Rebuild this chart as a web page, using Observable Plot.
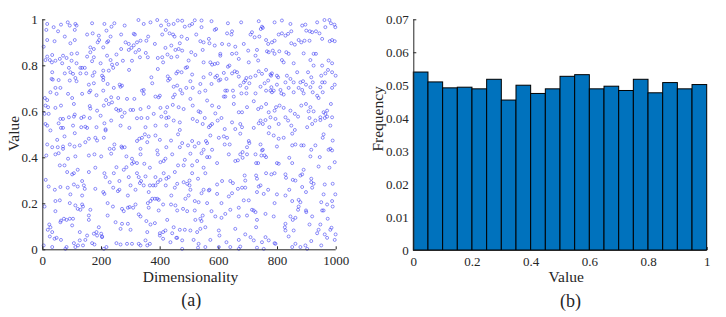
<!DOCTYPE html>
<html><head><meta charset="utf-8">
<script src="https://cdn.jsdelivr.net/npm/d3@7"></script>
<script src="https://cdn.jsdelivr.net/npm/@observablehq/plot@0.6"></script>
<style>
html,body{margin:0;padding:0;background:#fff;}
#wrap{position:relative;width:726px;height:317px;overflow:hidden;background:#fff;}
#wrap svg{position:absolute;top:0;}
#wrap svg text{font-family:"Liberation Serif","Times New Roman",serif;}
</style></head><body><div id="wrap"></div>
<script>
// (a) scatter: [dimensionality, value]
const scatterPoints = [
[15,.982],[37,.968],[62,.979],[85,.989],[92,.975],[111,.982],[115,.975],[168,.985],[210,.982],[234,.970],[244,.985],[279,.975],[326,.999],[344,.982],[367,.989],[390,.999],[403,.975],[421,.996],[429,.979],[446,.982],[460,.997],[475,.996],[484,.970],
[12,.956],[52,.950],[75,.927],[109,.956],[151,.936],[170,.941],[191,.931],[217,.953],[231,.927],[267,.936],[310,.939],[314,.936],[359,.927],[407,.936],[419,.956],[432,.941],[444,.936],[449,.927],[473,.927],
[15,.912],[40,.907],[94,.898],[109,.912],[162,.880],[187,.902],[192,.912],[219,.902],[223,.907],[282,.902],[293,.895],[310,.889],[321,.902],[333,.909],[353,.909],[382,.895],[438,.888],[467,.898],
[3,.883],[174,.873],[206,.880],[267,.873],[293,.869],[302,.878],[316,.859],[328,.869],[351,.856],[418,.878],[452,.869],[463,.873],[475,.866],[458,.840],[32,.847],[69,.844],[81,.834],[98,.852],[117,.854],[162,.859],[151,.840],[174,.837],[219,.844],[251,.849],[407,.837],[425,.849],[438,.837],
[9,.825],[24,.825],[31,.815],[43,.822],[58,.830],[66,.811],[98,.822],[115,.811],[134,.791],[168,.820],[197,.811],[231,.825],[236,.805],[253,.808],[273,.822],[304,.822],[331,.837],[358,.837],[392,.834],[410,.815],[15,.840],
[89,.791],[94,.772],[103,.765],[128,.791],[143,.791],[170,.757],[176,.772],[202,.757],[206,.779],[225,.779],[240,.791],[294,.782],[392,.786],[426,.754],[455,.767],[460,.775],[473,.772],[32,.772],[75,.767],[128,.767],[148,.767],
[30,.743],[34,.740],[54,.738],[92,.736],[111,.747],[115,.733],[157,.718],[174,.724],[206,.750],[206,.738],[221,.721],[242,.704],[262,.718],[265,.709],[270,.714],[338,.692],[344,.695],[370,.750],[373,.724],[427,.736],[433,.743],[446,.709],[458,.714],[469,.695],
[7,.660],[15,.651],[26,.685],[43,.704],[47,.678],[60,.704],[86,.678],[100,.660],[134,.678],[158,.685],[162,.692],[183,.672],[206,.692],[216,.651],[233,.663],[236,.641],[257,.660],[287,.656],[312,.656],[344,.678],[384,.666],[395,.663],[399,.670],[444,.663],[450,.675],[475,.680],
[9,.627],[18,.620],[43,.617],[62,.627],[106,.634],[160,.625],[162,.614],[185,.605],[208,.627],[225,.634],[250,.612],[258,.605],[265,.608],[279,.596],[299,.608],[308,.608],[333,.612],[361,.620],[401,.617],[418,.598],[424,.620],[443,.630],[463,.620],[480,.612],[6,.591],[20,.591],[60,.569],[69,.569],[89,.576],[106,.579],[109,.588],[131,.573],[140,.579],[160,.573],[197,.583],[233,.562],[270,.579],[321,.572],[336,.573],[357,.573],[378,.591],[404,.579],[421,.573],[429,.576],[446,.562],[467,.554],
[9,.547],[15,.540],[54,.550],[62,.530],[69,.530],[103,.540],[131,.533],[145,.535],[151,.530],[183,.533],[210,.550],[214,.524],[265,.540],[295,.530],[350,.533],[384,.540],[421,.540],[467,.521],
[518,.998],[541,.997],[541,.968],[575,.994],[500,.975],[509,.982],[591,.960],[586,.956],[631,.985],[645,.950],[676,.989],[736,.994],[743,.960],[750,.965],[747,.970],[790,.989],[815,.997],[844,.982],[847,.950],[884,.975],[895,.979],[910,.950],[931,.950],[935,.989],[960,.999],[963,.968],[977,.999],[982,.985],[994,.979],[997,.968],
[492,.917],[523,.936],[537,.907],[545,.869],[548,.902],[568,.898],[566,.917],[586,.888],[605,.852],[611,.895],[628,.941],[643,.936],[634,.892],[656,.883],[685,.895],[700,.866],[708,.936],[713,.946],[722,.924],[730,.869],[738,.927],[761,.912],[768,.895],[781,.902],[790,.909],[784,.866],[804,.936],[815,.941],[827,.931],[836,.939],[847,.898],[859,.892],[872,.912],[881,.902],[892,.909],[898,.953],[909,.909],[918,.946],[923,.852],[931,.852],[943,.941],[952,.917],[978,.907],[986,.912],[995,.907],
[492,.794],[497,.823],[506,.859],[520,.847],[548,.815],[571,.815],[577,.805],[586,.808],[596,.811],[605,.844],[631,.796],[636,.801],[645,.852],[660,.854],[668,.830],[702,.815],[725,.844],[734,.823],[764,.863],[770,.859],[790,.852],[806,.863],[815,.825],[821,.815],[830,.859],[838,.852],[855,.811],[889,.854],[912,.825],[923,.801],[952,.801],[974,.823],[986,.811],
[487,.791],[509,.762],[503,.733],[537,.721],[548,.750],[571,.765],[588,.750],[594,.757],[600,.736],[605,.740],[617,.769],[626,.743],[645,.767],[654,.776],[662,.772],[668,.753],[685,.728],[690,.736],[694,.747],[708,.750],[725,.757],[736,.776],[747,.765],[761,.782],[776,.762],[778,.757],[781,.767],[798,.757],[802,.750],[827,.728],[832,.757],[844,.743],[855,.728],[867,.772],[878,.728],[887,.733],[904,.772],[915,.750],[920,.728],[949,.757],[952,.728],[961,.728],[963,.767],[972,.782],[986,.772],[998,.757],
[489,.704],[511,.704],[534,.685],[554,.692],[575,.721],[617,.666],[622,.692],[628,.692],[648,.692],[651,.666],[673,.714],[677,.680],[694,.704],[694,.680],[704,.724],[725,.680],[742,.709],[756,.724],[761,.692],[768,.736],[776,.692],[779,.707],[787,.692],[781,.685],[798,.718],[810,.695],[813,.680],[821,.675],[838,.704],[855,.685],[872,.704],[884,.695],[889,.680],[897,.718],[912,.707],[920,.685],[935,.670],[940,.660],[946,.707],[954,.685],[986,.704],[995,.718],
[503,.656],[511,.627],[531,.602],[537,.598],[552,.573],[560,.649],[577,.627],[588,.593],[600,.620],[609,.573],[622,.666],[651,.634],[668,.598],[679,.598],[696,.620],[719,.646],[734,.612],[745,.620],[761,.634],[770,.598],[776,.576],[795,.620],[790,.605],[807,.627],[821,.617],[827,.576],[844,.605],[859,.591],[870,.579],[881,.627],[897,.634],[906,.602],[912,.620],[923,.602],[946,.576],[957,.598],[963,.591],[969,.605],[986,.576],[982,.634],
[511,.569],[526,.559],[545,.547],[566,.533],[571,.540],[577,.547],[596,.562],[620,.525],[645,.554],[656,.525],[673,.547],[679,.533],[719,.530],[736,.550],[742,.562],[750,.547],[759,.564],[772,.533],[793,.569],[804,.547],[836,.562],[847,.540],[859,.521],[901,.533],[909,.573],[918,.547],[929,.562],[946,.564],[961,.573],[969,.579],[980,.540],
[26,.519],[74,.493],[109,.507],[15,.458],[32,.446],[51,.446],[69,.449],[49,.478],[92,.458],[108,.449],[126,.454],[145,.468],[157,.483],[179,.487],[185,.475],[208,.487],[214,.519],[244,.458],[268,.449],[279,.446],[321,.473],[329,.483],[338,.487],[348,.502],[356,.468],[361,.493],[384,.497],[399,.478],[421,.446],[437,.475],[461,.502],[475,.464],
[12,.410],[43,.415],[54,.420],[69,.439],[86,.396],[111,.406],[157,.410],[176,.415],[199,.406],[228,.439],[233,.418],[242,.439],[270,.444],[285,.406],[304,.396],[310,.381],[321,.377],[333,.415],[346,.374],[390,.432],[392,.415],[401,.381],[412,.386],[418,.396],[441,.415],[461,.367],[467,.446],[484,.391],[333,.439],
[10,.304],[58,.367],[74,.367],[83,.338],[100,.328],[106,.333],[119,.348],[134,.299],[140,.280],[157,.338],[179,.357],[210,.333],[214,.316],[228,.294],[242,.333],[251,.359],[276,.348],[285,.359],[293,.316],[304,.374],[321,.333],[327,.316],[335,.299],[365,.357],[384,.316],[412,.333],[421,.309],[429,.316],[450,.338],[480,.367],[350,.319],[261,.299],
[20,.275],[41,.261],[60,.273],[85,.270],[94,.241],[106,.284],[119,.275],[134,.236],[143,.265],[179,.265],[206,.251],[210,.243],[240,.270],[256,.255],[261,.261],[299,.280],[316,.261],[331,.290],[344,.280],[361,.251],[365,.280],[376,.280],[384,.280],[392,.294],[401,.304],[419,.280],[438,.236],[450,.270],[458,.287],[480,.294],[486,.222],[290,.236],
[6,.188],[43,.212],[58,.215],[92,.203],[111,.193],[134,.197],[137,.188],[119,.178],[128,.174],[157,.149],[162,.174],[221,.203],[239,.188],[270,.178],[276,.168],[290,.183],[296,.186],[308,.183],[327,.154],[316,.197],[358,.203],[361,.183],[367,.212],[373,.222],[382,.222],[390,.222],[395,.217],[410,.197],[395,.171],[437,.197],[452,.193],[458,.171],[478,.178],[43,.168],[62,.127],[72,.135],[81,.130],[92,.135],[103,.135],
[22,.110],[17,.087],[26,.098],[32,.077],[47,.052],[60,.120],[100,.106],[126,.077],[157,.130],[174,.070],[191,.098],[183,.077],[199,.070],[202,.058],[248,.120],[265,.091],[270,.113],[290,.113],[299,.087],[333,.145],[353,.125],[367,.110],[382,.116],[399,.072],[410,.077],[418,.084],[424,.130],[441,.072],[446,.098],[455,.052],[467,.087],[484,.087],[356,.077],[221,.149],
[3,.019],[24,.058],[32,.012],[40,.048],[62,.043],[81,.012],[106,.029],[120,.019],[126,.041],[137,.019],[145,.043],[151,.062],[168,.029],[176,.023],[185,.062],[202,.055],[217,.012],[251,.029],[265,.023],[287,.026],[304,.026],[327,.026],[333,.019],[350,.041],[356,.019],[365,.026],[399,.062],[410,.048],[435,.033],[458,.052],[475,.041],[475,.004],[111,.012],[77,.004],[208,.004],
[495,.454],[509,.473],[518,.449],[531,.464],[548,.435],[556,.473],[560,.464],[571,.497],[577,.435],[600,.487],[617,.493],[620,.458],[628,.487],[637,.458],[673,.505],[681,.425],[702,.473],[704,.464],[696,.446],[725,.415],[742,.458],[750,.435],[756,.410],[770,.507],[787,.497],[798,.449],[804,.483],[821,.487],[850,.505],[850,.454],[861,.458],[881,.454],[889,.454],[915,.435],[929,.454],[957,.502],[954,.487],[974,.435],[980,.439],[988,.475],
[503,.418],[509,.367],[526,.386],[541,.420],[560,.403],[568,.403],[594,.377],[634,.415],[656,.386],[665,.389],[673,.415],[681,.400],[696,.415],[727,.377],[734,.377],[745,.410],[761,.403],[798,.377],[804,.374],[840,.400],[850,.377],[912,.406],[944,.403],[977,.357],[986,.432],[995,.381],[747,.432],
[492,.287],[500,.301],[509,.333],[529,.309],[548,.357],[554,.333],[594,.284],[611,.299],[639,.299],[648,.290],[688,.323],[690,.301],[727,.323],[730,.309],[742,.280],[761,.333],[779,.328],[790,.333],[827,.328],[829,.313],[852,.304],[861,.301],[878,.323],[884,.328],[889,.348],[915,.309],[915,.294],[940,.362],[961,.284],[988,.287],
[500,.280],[503,.261],[497,.236],[518,.212],[531,.207],[541,.246],[548,.261],[566,.258],[568,.261],[594,.243],[609,.203],[634,.232],[645,.246],[665,.265],[679,.270],[690,.270],[685,.215],[702,.215],[730,.251],[736,.275],[753,.243],[768,.261],[798,.241],[827,.236],[840,.261],[850,.212],[872,.217],[878,.207],[884,.273],[897,.251],[918,.270],[923,.287],[949,.207],[957,.241],[969,.197],[986,.212],[997,.241],
[492,.168],[518,.171],[537,.135],[541,.125],[545,.149],[560,.203],[575,.168],[588,.145],[609,.139],[622,.156],[639,.174],[668,.183],[668,.145],[696,.149],[713,.174],[719,.171],[725,.164],[730,.130],[759,.156],[787,.145],[790,.203],[827,.113],[844,.145],[852,.130],[861,.139],[870,.174],[872,.188],[898,.164],[897,.171],[918,.145],[952,.171],[957,.171],[971,.135],[988,.188],[520,.130],
[503,.084],[526,.077],[514,.043],[531,.026],[537,.091],[554,.098],[571,.043],[600,.084],[602,.062],[626,.033],[656,.091],[668,.043],[673,.014],[690,.067],[708,.055],[719,.041],[727,.098],[747,.033],[759,.055],[770,.041],[790,.029],[825,.098],[827,.084],[838,.058],[855,.084],[861,.026],[878,.012],[895,.019],[909,.110],[915,.038],[935,.072],[940,.087],[946,.110],[949,.019],[961,.067],[969,.052],[980,.087],[984,.096],[995,.043],[998,.067],[529,.009],[554,.012],[600,.012],[639,.012],[668,.004],[730,.009],[753,.004],[793,.026],[850,.012],[901,.004]
];
const scatterXTicks = [0, 200, 400, 600, 800, 1000];
const scatterYTicks = [0, 0.2, 0.4, 0.6, 0.8, 1];

// (b) histogram
const binEdges = [0,0.05,0.1,0.15,0.2,0.25,0.3,0.35,0.4,0.45,0.5,0.55,0.6,0.65,0.7,0.75,0.8,0.85,0.9,0.95,1];
const frequencies = [0.0540,0.0510,0.0492,0.0494,0.0489,0.0518,0.0455,0.0500,0.0475,0.0489,0.0527,0.0532,0.0489,0.0497,0.0484,0.0518,0.0477,0.0508,0.0489,0.0502];
const histXTicks = [0, 0.2, 0.4, 0.6, 0.8, 1];
const histYTicks = [0, 0.01, 0.02, 0.03, 0.04, 0.05, 0.06, 0.07];

const FONT = '"Liberation Serif","Times New Roman",serif';
const INK = "#262626";
const fmt = d => String(d);
const T = {fontFamily: FONT, fill: INK, lineAnchor: "middle", textAnchor: "middle"};

const plotA = Plot.plot({
  width: 363, height: 317,
  marginLeft: 42.3, marginRight: 27.3, marginTop: 19.3, marginBottom: 67.7,
  style: {fontFamily: FONT, fontSize: "13px", color: INK, background: "transparent", overflow: "visible"},
  x: {domain: [0, 1000]},
  y: {domain: [0, 1]},
  marks: [
    Plot.ruleX(scatterXTicks, {insetTop: 227, stroke: INK}),
    Plot.ruleY(scatterYTicks, {insetRight: 290.4, stroke: INK}),
    Plot.dot(scatterPoints, {x: d => d[0], y: d => d[1], r: 1.5, stroke: "#3535f2", strokeWidth: 0.65, strokeOpacity: 0.85, fill: "none"}),
    Plot.ruleX([0], {stroke: INK}),
    Plot.ruleY([0], {stroke: INK}),
    Plot.axisX(scatterXTicks, {anchor: "bottom", tickSize: 0, tickPadding: 6, tickFormat: fmt, label: null, fontSize: 13, fontFamily: FONT}),
    Plot.axisY(scatterYTicks, {anchor: "left", tickSize: 0, tickPadding: 5, tickFormat: fmt, label: null, fontSize: 13, fontFamily: FONT}),
    Plot.text(["Dimensionality"], {...T, text: d => d, frameAnchor: "bottom", dy: 27, dx: 1, fontSize: 15.5}),
    Plot.text(["Value"], {...T, text: d => d, frameAnchor: "left", rotate: -90, dx: -28.8, dy: -1.3, fontSize: 15.5}),
    Plot.text(["(a)"], {...T, text: d => d, frameAnchor: "bottom", dy: 50.5, dx: 1.7, fontSize: 18})
  ]
});
plotA.style.left = "0px";

const bins = frequencies.map((f, i) => ({x1: binEdges[i], x2: binEdges[i + 1], y: f}));

const plotB = Plot.plot({
  width: 363, height: 317,
  marginLeft: 50.3, marginRight: 19.3, marginTop: 19.3, marginBottom: 67,
  style: {fontFamily: FONT, fontSize: "13px", color: INK, background: "transparent", overflow: "visible"},
  x: {domain: [0, 1]},
  y: {domain: [0, 0.07]},
  marks: [
    Plot.ruleX(histXTicks, {insetTop: 227.7, stroke: INK}),
    Plot.ruleY(histYTicks, {insetRight: 290.4, stroke: INK}),
    Plot.rectY(bins, {x1: "x1", x2: "x2", y: "y", fill: "#0072BD", stroke: "#000", strokeWidth: 1}),
    Plot.ruleX([0], {stroke: INK}),
    Plot.ruleY([0], {stroke: INK}),
    Plot.axisX(histXTicks, {anchor: "bottom", tickSize: 0, tickPadding: 6, tickFormat: fmt, label: null, fontSize: 13, fontFamily: FONT}),
    Plot.axisY(histYTicks, {anchor: "left", tickSize: 0, tickPadding: 5, tickFormat: fmt, label: null, fontSize: 13, fontFamily: FONT}),
    Plot.text(["Value"], {...T, text: d => d, frameAnchor: "bottom", dy: 27, dx: 5.7, fontSize: 15.5}),
    Plot.text(["Frequency"], {...T, text: d => d, frameAnchor: "left", rotate: -90, dx: -35.8, dy: -16.3, fontSize: 15.5}),
    Plot.text(["(b)"], {...T, text: d => d, frameAnchor: "bottom", dy: 50.5, dx: 10, fontSize: 18})
  ]
});
plotB.style.left = "363px";

const wrap = document.getElementById("wrap");
wrap.appendChild(plotA);
wrap.appendChild(plotB);
</script>
</body></html>
